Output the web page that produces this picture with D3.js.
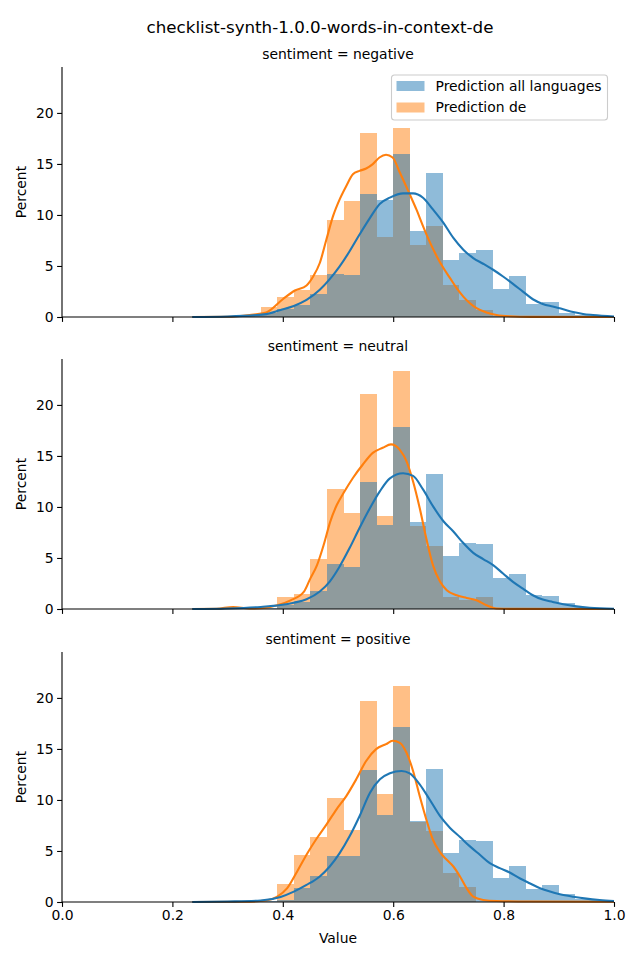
<!DOCTYPE html>
<html><head><meta charset="utf-8">
<script src="https://cdn.jsdelivr.net/npm/d3@7"></script>
<style>body{margin:0;background:#fff}svg{display:block}text{font-family:"DejaVu Sans",sans-serif;fill:#000}</style>
</head><body>
<script>
// ---- data ----
const title = "checklist-synth-1.0.0-words-in-context-de";
const panels = ["negative", "neutral", "positive"];
const seriesNames = ["Prediction all languages", "Prediction de"];
const binStart = 0.24, binWidth = 0.03; // shared bins (25 bins)
const xTicks = [0, 0.2, 0.4, 0.6, 0.8, 1.0];
const yTicks = [0, 5, 10, 15, 20];

const histAll = [
  [0.05,0.05,0.05,0.15,0.35,0.76,1.18,2.27,4.24,4.14,12.02,11.43,15.96,8.47,14.09,5.62,6.27,6.6,2.76,4.04,1.28,1.45,0.43,0.2,0.1],
  [0.03,0.03,0.05,0.08,0.1,0.39,0.72,1.81,4.43,4.07,12.45,8.28,17.8,8.54,13.2,5.15,6.47,6.4,3.02,3.45,1.38,1.28,0.56,0.2,0.1],
  [0.05,0.05,0.05,0.05,0.1,0.2,1.35,2.56,4.53,4.47,12.9,8.57,17.14,7.98,13.0,4.79,6.1,6.0,2.33,3.55,1.28,1.67,0.76,0.3,0.15]
];
const histDe = [
  [0,0,0,0.1,0.97,1.94,2.6,4.14,9.49,11.36,18.03,7.81,18.52,7.09,8.87,3.15,1.67,0.69,0.1,0,0,0,0,0,0],
  [0,0,0.2,0,0,1.15,1.48,4.93,11.72,9.36,21.08,9.1,23.35,8.1,6.14,1.15,0.89,1.15,0,0,0,0,0,0,0],
  [0,0,0,0,0,1.77,4.63,6.34,10.15,7.09,19.67,10.54,21.18,7.82,7.0,2.82,1.51,0,0,0,0,0,0,0,0]
];

const kdeAllX = [
  [0.236,0.30,0.366,0.396,0.420,0.443,0.467,0.485,0.503,0.521,0.539,0.558,0.576,0.594,0.618,0.636,0.654,0.672,0.691,0.709,0.727,0.745,0.763,0.781,0.799,0.817,0.835,0.853,0.871,0.889,0.908,0.926,0.944,0.962,1.0],
  [0.236,0.30,0.36,0.396,0.420,0.443,0.467,0.485,0.503,0.521,0.539,0.558,0.576,0.594,0.618,0.636,0.654,0.672,0.691,0.709,0.727,0.745,0.763,0.781,0.799,0.817,0.835,0.853,0.871,0.889,0.908,0.932,0.956,1.0],
  [0.236,0.30,0.36,0.396,0.420,0.443,0.467,0.485,0.503,0.521,0.539,0.558,0.576,0.594,0.615,0.630,0.648,0.666,0.685,0.703,0.721,0.739,0.757,0.775,0.793,0.811,0.829,0.847,0.866,0.884,0.902,0.926,0.950,0.974,1.0]
];
const kdeAllY = [
  [0,0.05,0.26,0.69,1.08,1.67,2.66,3.71,4.96,6.44,8.08,9.72,11.1,11.7,12.12,12.12,11.69,10.54,9.23,7.75,6.6,5.78,5.22,4.63,3.97,3.25,2.49,1.74,1.28,1.02,0.76,0.49,0.3,0.2,0.05],
  [0,0.05,0.2,0.39,0.62,0.95,1.71,2.69,4.17,5.97,7.94,9.9,11.55,12.8,13.3,13.04,11.72,10.08,8.6,7.6,6.46,5.5,4.89,4.3,3.48,2.66,2.0,1.35,0.92,0.69,0.46,0.26,0.13,0.03],
  [0,0.05,0.15,0.5,1.02,1.67,2.5,3.48,4.79,6.44,8.41,10.71,12.02,12.61,12.84,12.6,11.53,10.05,8.41,7.26,6.37,5.45,4.63,3.81,3.32,2.89,2.33,1.84,1.35,1.02,0.76,0.52,0.33,0.2,0.1]
];
const kdeDeX = [
  [0.236,0.30,0.34,0.37,0.40,0.422,0.443,0.455,0.467,0.479,0.491,0.503,0.515,0.527,0.539,0.551,0.563,0.575,0.587,0.599,0.612,0.630,0.642,0.654,0.667,0.679,0.691,0.703,0.715,0.727,0.739,0.751,0.769,0.787,0.811,0.85,1.0],
  [0.236,0.28,0.31,0.34,0.366,0.390,0.414,0.438,0.450,0.462,0.474,0.486,0.498,0.510,0.527,0.545,0.563,0.581,0.596,0.612,0.624,0.636,0.648,0.660,0.672,0.685,0.697,0.715,0.733,0.751,0.769,0.787,0.82,1.0],
  [0.236,0.33,0.37,0.390,0.408,0.426,0.444,0.462,0.479,0.497,0.515,0.533,0.551,0.569,0.587,0.599,0.612,0.624,0.636,0.648,0.660,0.672,0.685,0.697,0.709,0.721,0.733,0.745,0.763,0.787,0.85,1.0]
];
const kdeDeY = [
  [0,0.02,0.2,0.45,1.74,2.6,3.09,3.97,5.29,7.59,9.88,11.53,12.84,13.99,14.32,14.55,14.98,15.63,15.9,15.63,14.16,12.02,10.54,8.9,7.26,5.94,4.8,3.81,2.83,2.0,1.35,0.86,0.43,0.2,0.07,0.01,0],
  [0,0.02,0.2,0.05,0.1,0.36,0.85,1.67,3.0,4.3,6.27,8.57,10.21,11.36,12.84,14.16,15.3,15.8,16.13,15.6,14.5,12.5,9.9,6.9,4.3,2.66,1.84,1.35,1.08,0.85,0.36,0.05,0.01,0],
  [0,0.02,0.15,0.52,1.35,2.99,4.73,6.27,7.59,9.06,10.38,12.02,13.82,14.98,15.47,15.8,15.6,14.65,12.84,10.38,8.08,6.1,4.86,4.14,3.48,2.5,1.35,0.52,0.2,0.1,0.05,0.02]
];

// ---- layout ----
const W = 640, H = 960;
const left = 62, right = 614, plotH = 250;
const tops = [67, 359, 652];
const blue = "#1f77b4", orange = "#ff7f0e";

const svg = d3.select("body").append("svg").attr("width", W).attr("height", H);
svg.append("text").attr("x", 320).attr("y", 33).attr("text-anchor", "middle")
  .style("font-size", "16.7px").text(title);

const x = d3.scaleLinear().domain([0, 1]).range([left, right]);
const y = d3.scaleLinear().domain([0, 24.5]).range([plotH, 0]);

panels.forEach((p, i) => {
  const g = svg.append("g").attr("transform", `translate(0,${tops[i]})`);
  const binsDe = histDe[i].map((v, k) => ({x0: binStart + k*binWidth, x1: binStart + (k+1)*binWidth, v}));
  const binsAll = histAll[i].map((v, k) => ({x0: binStart + k*binWidth, x1: binStart + (k+1)*binWidth, v}));
  const drawBars = (bins, col) => g.append("g").attr("shape-rendering", "crispEdges")
    .selectAll("rect").data(bins.filter(d => d.v > 0)).join("rect")
    .attr("x", d => x(d.x0)).attr("width", d => x(d.x1) - x(d.x0))
    .attr("y", d => y(d.v)).attr("height", d => y(0) - y(d.v))
    .attr("fill", col).attr("fill-opacity", 0.5);
  drawBars(binsDe, orange);
  drawBars(binsAll, blue);

  const line = d3.line().x(d => x(d[0])).y(d => y(d[1])).curve(d3.curveMonotoneX);
  g.append("path").datum(kdeDeX[i].map((v, k) => [v, kdeDeY[i][k]])).attr("d", line)
    .attr("fill", "none").attr("stroke", orange).attr("stroke-width", 2.1);
  g.append("path").datum(kdeAllX[i].map((v, k) => [v, kdeAllY[i][k]])).attr("d", line)
    .attr("fill", "none").attr("stroke", blue).attr("stroke-width", 2.1);

  // axes
  const xa = d3.axisBottom(x).tickValues(xTicks).tickSize(4.9).tickPadding(3.5)
    .tickFormat(i === panels.length - 1 ? d3.format(".1f") : () => "");
  const gx = g.append("g").attr("transform", `translate(0,${plotH})`).call(xa);
  const ya = d3.axisLeft(y).tickValues(yTicks).tickSize(4.9).tickPadding(3.5).tickFormat(d3.format("d"));
  const gy = g.append("g").attr("transform", `translate(${left},0)`).call(ya);
  [gx, gy].forEach(a => {
    a.select(".domain").attr("stroke", "#000").attr("stroke-width", 1.1);
    a.selectAll(".tick line").attr("stroke", "#000").attr("stroke-width", 1.1);
    a.selectAll(".tick text").style("font-size", "13.9px").style("font-family", '"DejaVu Sans", sans-serif').attr("fill", "#000");
  });
  gy.select(".domain").attr("d", `M0,${plotH}V0`);
  gx.select(".domain").attr("d", `M${left},0H${right}`);

  g.append("text").attr("x", (left + right) / 2).attr("y", -8).attr("text-anchor", "middle")
    .style("font-size", "13.9px").text(`sentiment = ${p}`);
  g.append("text").attr("transform", `translate(26,${plotH/2}) rotate(-90)`).attr("text-anchor", "middle")
    .style("font-size", "13.9px").text("Percent");

  if (i === 0) {
    const lg = g.append("g").attr("transform", "translate(391.5,8)");
    lg.append("rect").attr("width", 216).attr("height", 45).attr("rx", 3)
      .attr("fill", "#fff").attr("fill-opacity", 0.8).attr("stroke", "#cccccc").attr("stroke-width", 1.1);
    [blue, orange].forEach((c, k) => {
      lg.append("rect").attr("x", 5).attr("y", 6 + k*21.5).attr("width", 28).attr("height", 10)
        .attr("fill", c).attr("fill-opacity", 0.5);
      lg.append("text").attr("x", 44).attr("y", 15.5 + k*21.5).style("font-size", "13.9px").text(seriesNames[k]);
    });
  }
});
svg.append("text").attr("x", (left + right) / 2).attr("y", 943).attr("text-anchor", "middle")
  .style("font-size", "13.9px").text("Value");
</script>
</body></html>
